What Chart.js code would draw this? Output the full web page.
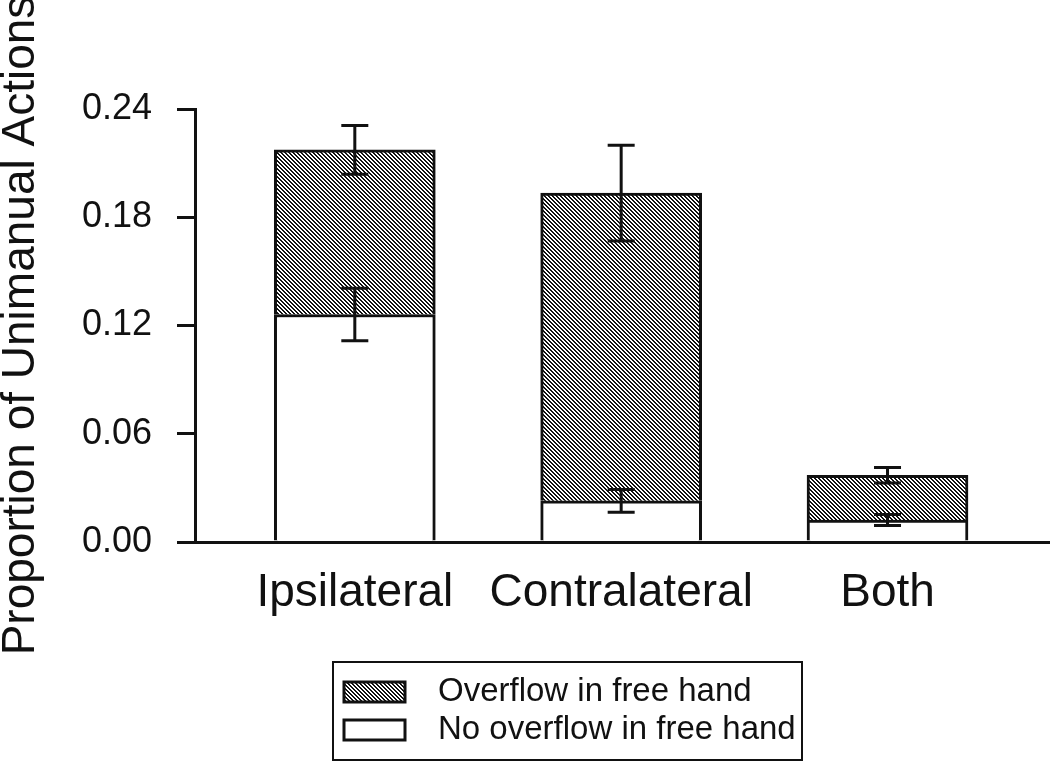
<!DOCTYPE html>
<html>
<head>
<meta charset="utf-8">
<script src="https://cdn.jsdelivr.net/npm/chart.js@4.4.0/dist/chart.umd.min.js"></script>
<style>
  body { margin: 0; background: #fff; }
</style>
</head>
<body>
<canvas id="chart" width="1050" height="762"></canvas>
<script>
// data
var categories = ["Ipsilateral", "Contralateral", "Both"];
var noOverflow = [0.1261, 0.0228, 0.0122];      // white (bottom) segment
var overflow = [0.0912, 0.1706, 0.0248];        // hatched (top) segment
var noOverflowErr = [0.0146, 0.0063, 0.0030];
var overflowErr = [0.0135, 0.0265, 0.0043];
var yTicks = [0, 0.06, 0.12, 0.18, 0.24];

var ink = '#111';
var font = "'Liberation Sans', Arial, Helvetica, sans-serif";

// crisp "\" hatch, 4px period, built pixel by pixel
function makeHatch() {
  var c = document.createElement('canvas');
  c.width = 4; c.height = 4;
  var g = c.getContext('2d');
  g.fillStyle = '#fff';
  g.fillRect(0, 0, 4, 4);
  g.fillStyle = ink;
  for (var r = 0; r < 4; r++) {
    g.fillRect(r % 4, r, 1, 1);
    g.fillRect((r + 1) % 4, r, 1, 1);
  }
  return g.createPattern(c, 'repeat');
}
var hatch = makeHatch();

// error bars on top of each stacked segment
var errorBars = {
  id: 'errorBars',
  afterDatasetsDraw: function (chart) {
    var ctx = chart.ctx;
    var y = chart.scales.y;
    var errs = [noOverflowErr, overflowErr];
    ctx.save();
    ctx.strokeStyle = ink;
    ctx.lineWidth = 3;
    chart.data.datasets.forEach(function (ds, i) {
      var meta = chart.getDatasetMeta(i);
      meta.data.forEach(function (bar, j) {
        var top = 0;
        for (var k = 0; k <= i; k++) top += chart.data.datasets[k].data[j].y;
        var hi = y.getPixelForValue(top + errs[i][j]);
        var lo = y.getPixelForValue(top - errs[i][j]);
        var cx = bar.x, w = 13.5;
        ctx.beginPath();
        ctx.moveTo(cx, hi); ctx.lineTo(cx, lo);
        ctx.moveTo(cx - w, hi); ctx.lineTo(cx + w, hi);
        ctx.moveTo(cx - w, lo); ctx.lineTo(cx + w, lo);
        ctx.stroke();
      });
    });
    ctx.restore();
  }
};

// boxed legend below the plot
var boxLegend = {
  id: 'boxLegend',
  afterDraw: function (chart) {
    var ctx = chart.ctx;
    ctx.save();
    ctx.strokeStyle = ink;
    ctx.lineWidth = 2;
    ctx.strokeRect(333, 662, 469, 98);
    var items = chart.data.datasets.slice().reverse();
    items.forEach(function (ds, i) {
      var cy = 692 + i * 38;
      ctx.fillStyle = ds.backgroundColor;
      ctx.fillRect(344, cy - 10, 61, 20);
      ctx.lineWidth = 3;
      ctx.strokeRect(344, cy - 10, 61, 20);
      ctx.fillStyle = ink;
      ctx.font = '33px ' + font;
      ctx.textBaseline = 'middle';
      ctx.fillText(ds.label, 438, cy);
    });
    ctx.restore();
  }
};

function points(vals) {
  return vals.map(function (v, i) { return { x: i + 1, y: v }; });
}

new Chart(document.getElementById('chart'), {
  type: 'bar',
  data: {
    datasets: [
      {
        label: 'No overflow in free hand',
        data: points(noOverflow),
        backgroundColor: '#fff',
        borderColor: ink,
        borderWidth: 3,
        borderSkipped: 'start',
        barThickness: 161
      },
      {
        label: 'Overflow in free hand',
        data: points(overflow),
        backgroundColor: hatch,
        borderColor: ink,
        borderWidth: 3,
        borderSkipped: 'start',
        barThickness: 161
      }
    ]
  },
  options: {
    responsive: false,
    animation: false,
    layout: { padding: { top: 109, right: 0, left: 0, bottom: 0 } },
    plugins: {
      legend: { display: false },
      tooltip: { enabled: false }
    },
    scales: {
      x: {
        type: 'linear',
        stacked: true,
        offset: false,
        min: 0.4,
        max: 3.61,
        afterBuildTicks: function (s) {
          s.ticks = categories.map(function (c, i) { return { value: i + 1 }; });
        },
        afterFit: function (s) { s.height = 220; },
        grid: { drawOnChartArea: false, drawTicks: false, color: ink, lineWidth: 3 },
        border: { display: true, color: ink, width: 3 },
        ticks: {
          autoSkip: false,
          maxRotation: 0,
          padding: 24,
          color: ink,
          font: { family: font, size: 46 },
          callback: function (v, i) { return categories[i]; }
        }
      },
      y: {
        stacked: true,
        min: 0,
        max: 0.24,
        afterBuildTicks: function (s) {
          s.ticks = yTicks.map(function (v) { return { value: v }; });
        },
        afterFit: function (s) { s.width = 195; },
        grid: { drawOnChartArea: false, tickLength: 18, color: ink, lineWidth: 3 },
        border: { display: true, color: ink, width: 3 },
        ticks: {
          padding: 25,
          color: ink,
          font: { family: font, size: 36 },
          callback: function (v) { return v.toFixed(2); }
        },
        title: {
          display: true,
          text: 'Proportion of Unimanual Actions',
          color: ink,
          padding: 0,
          font: { family: font, size: 46, lineHeight: 0.92 }
        }
      }
    }
  },
  plugins: [errorBars, boxLegend]
});
</script>
</body>
</html>
